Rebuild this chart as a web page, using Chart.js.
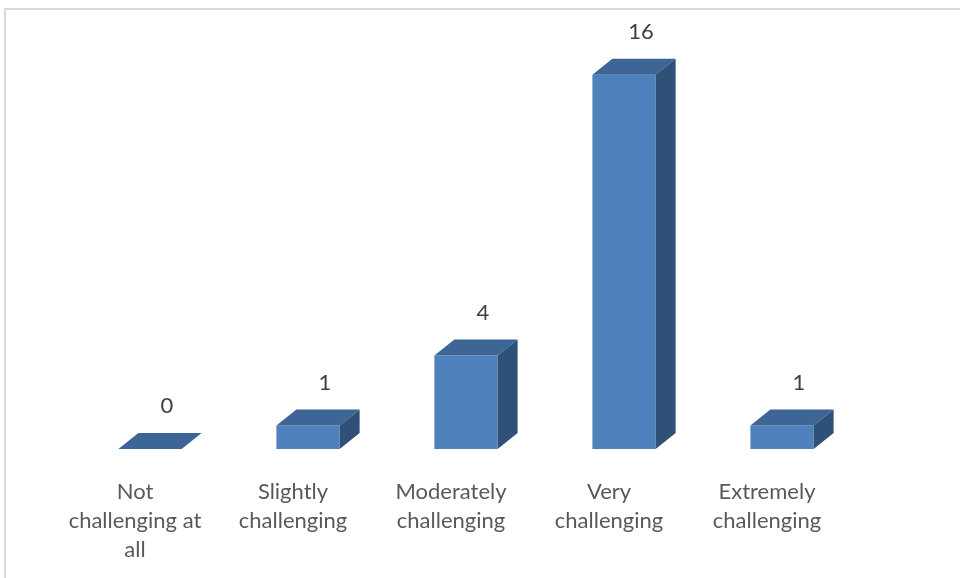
<!DOCTYPE html>
<html>
<head>
<meta charset="utf-8">
<script src="https://cdn.jsdelivr.net/npm/chart.js@4.4.1/dist/chart.umd.min.js"></script>
<style>
  html, body { margin: 0; padding: 0; background: #fff; }
  #wrap { width: 960px; height: 578px; position: relative; }
</style>
</head>
<body>
<div id="wrap"><canvas id="chart"></canvas></div>
<script>
// data
const categories = [
  ['Not', 'challenging at', 'all'],
  ['Slightly', 'challenging'],
  ['Moderately', 'challenging'],
  ['Very', 'challenging'],
  ['Extremely', 'challenging']
];
const counts = [0, 1, 4, 16, 1];

const FRONT = '#4f81bd';
const TOP   = '#3d6596';
const SIDE  = '#2f5077';
const DEPTH_X = 20, DEPTH_Y = 16;
const FONT = 'Lato, "Open Sans", sans-serif';

// white page + the light frame Excel leaves round the chart
const frame = {
  id: 'frame',
  beforeDraw(chart) {
    const c = chart.ctx;
    c.save();
    c.fillStyle = '#fff';
    c.fillRect(0, 0, chart.width, chart.height);
    c.strokeStyle = '#d9d9d9';
    c.lineWidth = 2;
    c.beginPath();
    c.moveTo(5, chart.height);
    c.lineTo(5, 9);
    c.lineTo(chart.width, 9);
    c.stroke();
    c.restore();
  }
};

// top and side faces for the fake 3D look, plus the value labels
const box3d = {
  id: 'box3d',
  afterDatasetsDraw(chart) {
    const c = chart.ctx;
    const meta = chart.getDatasetMeta(0);
    c.save();
    meta.data.forEach((bar, i) => {
      const half = bar.width / 2;
      const l = bar.x - half, r = bar.x + half;
      const t = bar.y, b = bar.base;

      c.fillStyle = TOP;
      c.beginPath();
      c.moveTo(l, t);
      c.lineTo(l + DEPTH_X, t - DEPTH_Y);
      c.lineTo(r + DEPTH_X, t - DEPTH_Y);
      c.lineTo(r, t);
      c.closePath();
      c.fill();

      if (b - t > 0.5) {
        c.fillStyle = SIDE;
        c.beginPath();
        c.moveTo(r, t);
        c.lineTo(r + DEPTH_X, t - DEPTH_Y);
        c.lineTo(r + DEPTH_X, b - DEPTH_Y);
        c.lineTo(r, b);
        c.closePath();
        c.fill();
      }

      c.fillStyle = '#404040';
      c.font = '22px ' + FONT;
      c.textAlign = 'center';
      c.textBaseline = 'middle';
      c.fillText(String(counts[i]), bar.x + 17, t - DEPTH_Y - 27);
    });
    c.restore();
  }
};

new Chart(document.getElementById('chart'), {
  type: 'bar',
  data: {
    labels: categories,
    datasets: [{
      data: counts,
      backgroundColor: FRONT,
      borderWidth: 0,
      barPercentage: 0.4,
      categoryPercentage: 1
    }]
  },
  options: {
    responsive: true,
    maintainAspectRatio: false,
    animation: false,
    events: [],
    layout: { padding: { top: 28, bottom: 0, left: 71, right: 99 } },
    plugins: { legend: { display: false }, tooltip: { enabled: false } },
    scales: {
      x: {
        grid: { display: false },
        border: { display: false },
        afterFit(scale) { scale.height = 129; },
        ticks: {
          color: '#595959',
          font: { family: FONT, size: 22, lineHeight: 1.3 },
          padding: 21,
          labelOffset: -15,
          maxRotation: 0,
          autoSkip: false
        }
      },
      y: {
        display: false,
        min: 0,
        max: 18
      }
    }
  },
  plugins: [frame, box3d]
});
</script>
</body>
</html>
